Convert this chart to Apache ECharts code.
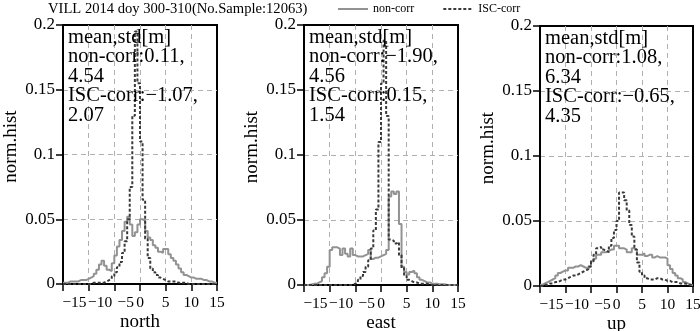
<!DOCTYPE html>
<html>
<head>
<meta charset="utf-8">
<script src="https://cdn.jsdelivr.net/npm/echarts@6/dist/echarts.min.js"></script>
<style>
  html, body { margin: 0; padding: 0; background: #fff; }
  #chart { width: 700px; height: 331px; }
</style>
</head>
<body>
<div id="chart"></div>
<script>
// bin left edges (0.5 m bins) plus closing edge
var binEdges = [-15, -14.5, -14, -13.5, -13, -12.5, -12, -11.5, -11, -10.5,
  -10, -9.5, -9, -8.5, -8, -7.5, -7, -6.5, -6, -5.5,
  -5, -4.5, -4, -3.5, -3, -2.5, -2, -1.5, -1, -0.5,
  0, 0.5, 1, 1.5, 2, 2.5, 3, 3.5, 4, 4.5,
  5, 5.5, 6, 6.5, 7, 7.5, 8, 8.5, 9, 9.5,
  10, 10.5, 11, 11.5, 12, 12.5, 13, 13.5, 14, 14.5, 15];

var northNonCorr = [0.001, 0.001, 0.002, 0.002, 0.002, 0.002, 0.003, 0.003, 0.003, 0.004,
  0.005, 0.006, 0.008, 0.011, 0.015, 0.018, 0.014, 0.011, 0.010, 0.016,
  0.022, 0.029, 0.034, 0.041, 0.048, 0.052, 0.046, 0.037, 0.040, 0.046,
  0.050, 0.049, 0.041, 0.036, 0.034, 0.030, 0.028, 0.025, 0.024, 0.027,
  0.027, 0.023, 0.020, 0.018, 0.015, 0.012, 0.009, 0.007, 0.006, 0.005,
  0.005, 0.004, 0.004, 0.004, 0.003, 0.003, 0.002, 0.002, 0.001, 0.001];
var northIsc = [0, 0, 0, 0, 0, 0, 0, 0, 0, 0,
  0, 0.001, 0.001, 0.001, 0.001, 0.001, 0.002, 0.003, 0.004, 0.006,
  0.009, 0.013, 0.017, 0.024, 0.033, 0.050, 0.075, 0.130, 0.195, 0.155,
  0.110, 0.065, 0.035, 0.020, 0.012, 0.009, 0.007, 0.005, 0.004, 0.003,
  0.002, 0.002, 0.002, 0.002, 0.001, 0.001, 0.001, 0.001, 0, 0,
  0, 0, 0, 0, 0, 0, 0, 0, 0, 0];

var eastNonCorr = [0, 0, 0.0005, 0.001, 0.001, 0.002, 0.003, 0.006, 0.009, 0.014,
  0.027, 0.029, 0.029, 0.028, 0.023, 0.028, 0.024, 0.022, 0.028, 0.023,
  0.022, 0.022, 0.022, 0.023, 0.024, 0.027, 0.020, 0.021, 0.021, 0.022,
  0.023, 0.024, 0.027, 0.068, 0.072, 0.070, 0.072, 0.047, 0.014, 0.010,
  0.008, 0.010, 0.011, 0.009, 0.006, 0.004, 0.003, 0.002, 0.002, 0.001,
  0.001, 0.001, 0.0005, 0.0005, 0.0005, 0, 0, 0, 0, 0];
var eastIsc = [0, 0, 0, 0, 0, 0, 0, 0, 0, 0,
  0, 0, 0, 0, 0, 0, 0, 0, 0, 0.001,
  0.002, 0.004, 0.007, 0.010, 0.014, 0.019, 0.028, 0.042, 0.058, 0.110,
  0.155, 0.188, 0.130, 0.035, 0.034, 0.032, 0.033, 0.023, 0.013, 0.007,
  0.004, 0.003, 0.002, 0.002, 0.001, 0.001, 0.001, 0.001, 0, 0,
  0, 0, 0, 0, 0, 0, 0, 0, 0, 0];

var upNonCorr = [0.001, 0.002, 0.003, 0.004, 0.005, 0.006, 0.008, 0.010, 0.011, 0.012,
  0.012, 0.014, 0.014, 0.015, 0.015, 0.016, 0.015, 0.014, 0.014, 0.015,
  0.019, 0.021, 0.024, 0.024, 0.026, 0.026, 0.027, 0.028, 0.028, 0.031,
  0.031, 0.029, 0.029, 0.028, 0.026, 0.026, 0.029, 0.028, 0.024, 0.024,
  0.025, 0.023, 0.024, 0.024, 0.022, 0.023, 0.022, 0.022, 0.022, 0.021,
  0.016, 0.013, 0.010, 0.008, 0.006, 0.005, 0.003, 0.002, 0.001, 0.0005];
var upIsc = [0, 0.001, 0.001, 0.002, 0.002, 0.003, 0.003, 0.004, 0.005, 0.005,
  0.006, 0.007, 0.008, 0.008, 0.009, 0.010, 0.011, 0.012, 0.013, 0.015,
  0.019, 0.024, 0.029, 0.030, 0.028, 0.027, 0.026, 0.031, 0.037, 0.043,
  0.050, 0.072, 0.072, 0.066, 0.058, 0.047, 0.038, 0.028, 0.018, 0.011,
  0.008, 0.006, 0.005, 0.005, 0.005, 0.006, 0.006, 0.005, 0.005, 0.004,
  0.004, 0.003, 0.003, 0.003, 0.002, 0.002, 0.002, 0.001, 0.001, 0.0005];

var panelNames = ['north', 'east', 'up'];
var statTexts = [
  'mean,std[m]\nnon-corr:0.11,\n4.54\nISC-corr:\u22121.07,\n2.07',
  'mean,std[m]\nnon-corr:\u22121.90,\n4.56\nISC-corr:0.15,\n1.54',
  'mean,std[m]\nnon-corr:1.08,\n6.34\nISC-corr:\u22120.65,\n4.35'
];
var grids = [
  { left: 63, top: 25, width: 154, height: 259 },
  { left: 304, top: 25, width: 154, height: 260 },
  { left: 540, top: 26, width: 153, height: 260 }
];

function toSteps(vals) {
  var out = [];
  for (var i = 0; i < vals.length; i++) out.push([binEdges[i], vals[i]]);
  out.push([binEdges[vals.length], vals[vals.length - 1]]);
  return out;
}

var serif = '"Liberation Serif", "Times New Roman", serif';
var gray = '#929292';
var dark = '#3a3a3a';

var xAxes = [], yAxes = [], gridOpts = [], series = [], graphics = [];
var dataSets = [[northNonCorr, northIsc], [eastNonCorr, eastIsc], [upNonCorr, upIsc]];

grids.forEach(function (g, k) {
  gridOpts.push({
    left: g.left, top: g.top, width: g.width, height: g.height,
    outerBoundsMode: 'none', containLabel: false,
    show: true, borderColor: '#000', borderWidth: 2, backgroundColor: '#fff'
  });
  xAxes.push({
    type: 'value', gridIndex: k, min: -15, max: 15, interval: 5,
    name: panelNames[k], nameLocation: 'middle', nameGap: 29, nameMoveOverlap: false,
    nameTextStyle: { fontFamily: serif, fontSize: 19, color: '#000' },
    axisLine: { show: true, onZero: false, lineStyle: { color: '#000', width: 2 } },
    axisTick: { show: true, inside: false, length: 7, lineStyle: { color: '#000', width: 1.5 } },
    axisLabel: {
      fontFamily: serif, fontSize: 15.5, color: '#000', margin: 11,
      // negative labels sit slightly to the right of their ticks in the original
      formatter: function (v) {
        return v < 0 ? '{neg|\u2212' + Math.abs(v) + '}' : String(v);
      },
      rich: { neg: { fontFamily: serif, fontSize: 15.5, color: '#000', padding: [0, 0, 0, 23] } }
    },
    splitLine: {
      show: true, showMinLine: false, showMaxLine: false,
      lineStyle: { color: '#b0b0b0', type: [5, 4], width: 1 }
    }
  });
  yAxes.push({
    type: 'value', gridIndex: k, min: 0, max: 0.2, interval: 0.05,
    name: 'norm.hist', nameLocation: 'middle', nameGap: 42, nameRotate: 90,
    nameTextStyle: { fontFamily: serif, fontSize: 19, color: '#000', padding: [0, 0, 0, 16] },
    axisLine: { show: true, onZero: false, lineStyle: { color: '#000', width: 2 } },
    axisTick: { show: true, inside: false, length: 7, lineStyle: { color: '#000', width: 1.5 } },
    axisLabel: {
      fontFamily: serif, fontSize: 17, color: '#000', margin: 8,
      formatter: function (v) { return String(parseFloat(v.toFixed(2))); }
    },
    splitLine: {
      show: true, showMinLine: false, showMaxLine: false,
      lineStyle: { color: '#b0b0b0', type: [5, 4], width: 1 }
    }
  });
  series.push({
    name: 'non-corr', type: 'line', step: 'end', xAxisIndex: k, yAxisIndex: k,
    symbol: 'none', data: toSteps(dataSets[k][0]),
    lineStyle: { color: gray, width: 2 }, itemStyle: { color: gray }, z: 3
  });
  series.push({
    name: 'ISC-corr', type: 'line', step: 'end', xAxisIndex: k, yAxisIndex: k,
    symbol: 'none', data: toSteps(dataSets[k][1]),
    lineStyle: { color: dark, width: 2, type: [3, 2] }, itemStyle: { color: dark }, z: 4
  });
  graphics.push({
    type: 'text', left: g.left + 5, top: g.top + 2, z: 10,
    style: { text: statTexts[k], font: '20.5px ' + serif, fill: '#000', lineHeight: 19.5 }
  });
});

var chart = echarts.init(document.getElementById('chart'), null, { renderer: 'canvas' });
chart.setOption({
  animation: false,
  backgroundColor: '#fff',
  title: {
    text: 'VILL 2014 doy 300-310(No.Sample:12063)',
    left: 43, top: -3,
    textStyle: { fontFamily: serif, fontSize: 14.6, fontWeight: 'normal', color: '#000' }
  },
  legend: {
    data: ['non-corr', 'ISC-corr'],
    left: 332, top: -2, itemWidth: 30, itemHeight: 12, itemGap: 28,
    itemStyle: { opacity: 0 },
    textStyle: { fontFamily: serif, fontSize: 12, color: '#000' }
  },
  grid: gridOpts,
  xAxis: xAxes,
  yAxis: yAxes,
  series: series,
  graphic: graphics
});
</script>
</body>
</html>
